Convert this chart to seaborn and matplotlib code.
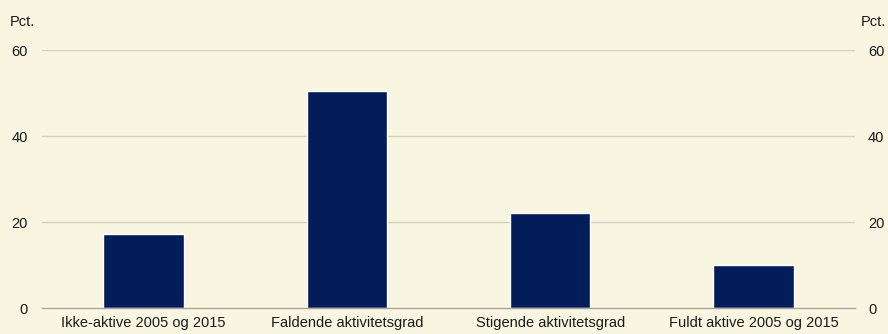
import matplotlib
matplotlib.use("Agg")
import matplotlib.pyplot as plt
import seaborn as sns
import pandas as pd

categories = ["Ikke-aktive 2005 og 2015", "Faldende aktivitetsgrad",
              "Stigende aktivitetsgrad", "Fuldt aktive 2005 og 2015"]
values = [17.3, 50.5, 22.1, 9.9]
yticks = [0, 20, 40, 60]
unit = "Pct."

bg = "#F8F6E1"
bar_color = "#031D5A"
grid_color = "#D3D1C4"
axis_color = "#A9A79E"

sns.set_theme(style="white")
plt.rcParams["font.family"] = ["Liberation Sans", "DejaVu Sans"]

df = pd.DataFrame({"cat": categories, "val": values})

fig = plt.figure(figsize=(8.88, 3.34), dpi=100, facecolor=bg)
ax = fig.add_axes([42/888, 1-308/334, 813/888, 258/334])
ax.set_facecolor(bg)

sns.barplot(data=df, x="cat", y="val", color=bar_color, width=0.395,
            saturation=1, ax=ax, zorder=3)

ax.set_ylim(0, 60)
ax.set_xlim(-0.5, len(categories) - 0.5)
ax.set_yticks(yticks)
ax.set_yticklabels([str(t) for t in yticks])
for t in yticks[1:]:
    ax.axhline(t, color=grid_color, lw=1.0, zorder=1)

for s in ["top", "right", "left"]:
    ax.spines[s].set_visible(False)
ax.spines["bottom"].set_color(axis_color)
ax.spines["bottom"].set_linewidth(1.0)
ax.spines["bottom"].set_zorder(4)

ax.set_xlabel("")
ax.set_ylabel("")
ax.set_xticks(range(len(categories)))
ax.set_xticklabels(categories, fontsize=10.5, color="#1a1a1a")
ax.tick_params(axis="x", length=0, pad=6)
# minor ticks at category boundaries
ax.set_xticks([i - 0.5 for i in range(len(categories) + 1)], minor=True)
ax.tick_params(axis="x", which="minor", length=3, color=axis_color, width=1, direction="out")
ax.tick_params(axis="y", length=0, labelsize=10.5, labelcolor="#1a1a1a",
               labelright=True, labelleft=True)
ax.tick_params(axis="y", which="major", pad=10)
for lab in ax.get_yticklabels(which="major"):
    pass
# right labels a bit closer
for t in ax.yaxis.get_major_ticks():
    t.set_pad(10)
fig.canvas.draw()
for t in ax.yaxis.get_major_ticks():
    t.label2.set_x(1.0 + 13/813)
    t.label2.set_transform(ax.get_yaxis_transform(which="tick2"))

fig.text(10/888, 1-22/334, unit, fontsize=10.5, color="#1a1a1a", va="center", ha="left")
fig.text(886/888, 1-22/334, unit, fontsize=10.5, color="#1a1a1a", va="center", ha="right")

fig.savefig("out.png", dpi=100, facecolor=bg)
